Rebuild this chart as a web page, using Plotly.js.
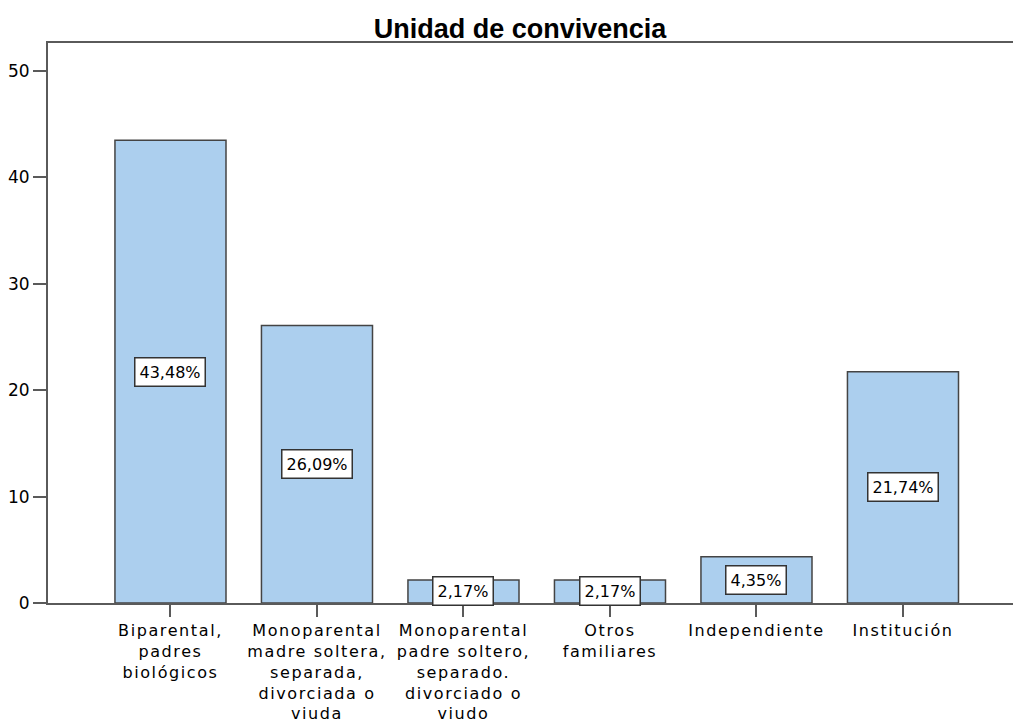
<!DOCTYPE html>
<html><head><meta charset="utf-8">
<script src="https://cdn.plot.ly/plotly-3.0.1.min.js"></script>
<style>
html,body{margin:0;padding:0;background:#fff;}
#chart{width:1013px;height:724px;}
.xtick text{letter-spacing:1.6px;}
</style></head><body><div id="chart"></div>
<script>
const categories = [
  "Biparental,<br>padres<br>biológicos",
  "Monoparental<br>madre soltera,<br>separada,<br>divorciada o<br>viuda",
  "Monoparental<br>padre soltero,<br>separado.<br>divorciado o<br>viudo",
  "Otros<br>familiares",
  "Independiente",
  "Institución"
];
const percentages = [43.48, 26.09, 2.17, 2.17, 4.35, 21.74];
const percentLabels = ["43,48%", "26,09%", "2,17%", "2,17%", "4,35%", "21,74%"];
const yTickValues = [0, 10, 20, 30, 40, 50];

const axisColor = "#5a5a5a";
const fontFam = "DejaVu Sans, Verdana, sans-serif";

const trace = {
  type: "bar",
  x: categories,
  y: percentages,
  marker: {color: "#accfee", line: {color: "#444444", width: 1.5}},
  hoverinfo: "none"
};

const annotations = categories.map((c, i) => ({
  x: c, y: percentages[i] / 2, xref: "x", yref: "y",
  text: percentLabels[i], showarrow: false,
  font: {family: fontFam, size: 16, color: "#000"},
  bgcolor: "#ffffff", bordercolor: "#333333", borderwidth: 1.5, borderpad: 4
}));

const layout = {
  width: 1013, height: 724,
  margin: {l: 48, r: 0, t: 43, b: 121, pad: 0},
  paper_bgcolor: "#ffffff", plot_bgcolor: "#ffffff",
  showlegend: false,
  bargap: 0.242,
  title: {
    text: "Unidad de convivencia",
    font: {family: "Liberation Sans, Arial, sans-serif", size: 27, weight: "bold", color: "#000"},
    x: 520 / 1013, xanchor: "center", y: 1 - 28.5 / 724, yanchor: "middle"
  },
  xaxis: {
    type: "category",
    range: [-0.836, 5.751],
    showline: true, linecolor: axisColor, linewidth: 2, mirror: true,
    ticks: "outside", ticklen: 12, tickwidth: 2, tickcolor: axisColor,
    tickfont: {family: fontFam, size: 16, color: "#000"},
    showgrid: false, zeroline: false, fixedrange: true
  },
  yaxis: {
    range: [0, 52.63],
    tickvals: yTickValues,
    ticktext: yTickValues.map(String),
    showline: true, linecolor: axisColor, linewidth: 2,
    ticks: "outside", ticklen: 13, tickwidth: 2, tickcolor: axisColor,
    tickfont: {family: fontFam, size: 17, color: "#000"},
    showgrid: false, zeroline: false, fixedrange: true
  },
  annotations: annotations
};

Plotly.newPlot("chart", [trace], layout, {displayModeBar: false, staticPlot: true});
</script></body></html>
